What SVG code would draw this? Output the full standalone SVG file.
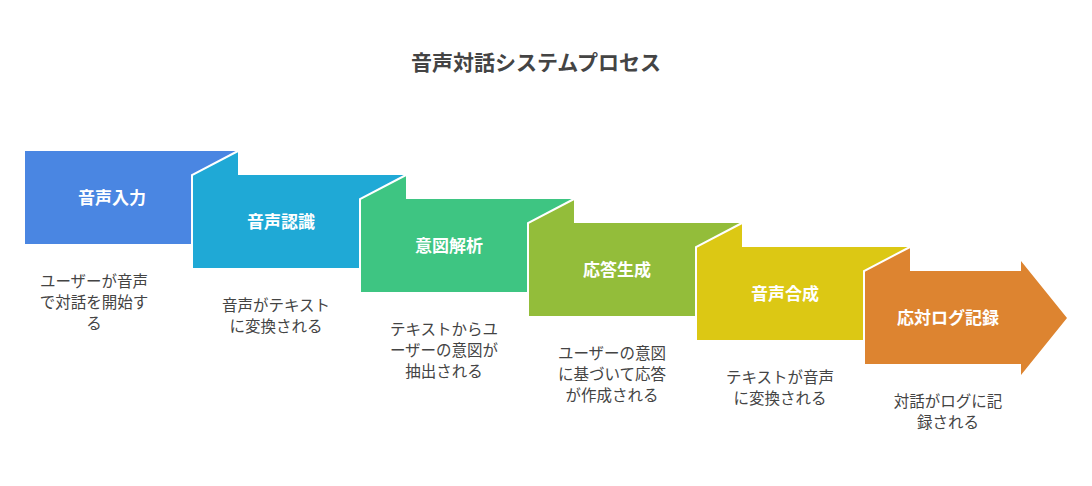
<svg xmlns="http://www.w3.org/2000/svg" width="1092" height="486" viewBox="0 0 1092 486">
<style>
.t{font-family:"Noto Sans CJK JP",sans-serif;font-size:17px;font-weight:bold;fill:#fff;text-anchor:middle}
.d{font-family:"Noto Sans CJK JP",sans-serif;font-size:15.5px;fill:#444;text-anchor:middle}
.f{stroke:#fff;stroke-width:2;fill:none}
</style>
<rect width="1092" height="486" fill="#fff"/>
<text x="536" y="70" text-anchor="middle" font-family="Noto Sans CJK JP,sans-serif" font-size="21" font-weight="bold" fill="#444">音声対話システムプロセス</text>
<g id="n1"><rect x="25" y="151" width="213" height="93" fill="#4a86e2"/><text class="t" x="112" y="204">音声入力</text>
<text class="d" x="94" y="287">ユーザーが音声</text><text class="d" x="94" y="308">で対話を開始す</text><text class="d" x="94" y="329">る</text></g>
<g id="n2"><polygon points="192,175 238,151 406,151 406,268 192,268" fill="#1fa9d6"/><rect x="238" y="151" width="168" height="24" fill="#fff"/><polyline class="f" points="238,151 192,175 192,268"/><text class="t" x="281" y="228">音声認識</text>
<text class="d" x="276" y="311">音声がテキスト</text><text class="d" x="276" y="332">に変換される</text></g>
<g id="n3"><polygon points="360,199 406,175 574,175 574,292 360,292" fill="#3ec582"/><rect x="406" y="175" width="168" height="24" fill="#fff"/><polyline class="f" points="406,175 360,199 360,292"/><text class="t" x="449" y="252">意図解析</text>
<text class="d" x="444" y="335">テキストからユ</text><text class="d" x="444" y="356">ーザーの意図が</text><text class="d" x="444" y="377">抽出される</text></g>
<g id="n4"><polygon points="528,223 574,199 742,199 742,316 528,316" fill="#93bd3a"/><rect x="574" y="199" width="168" height="24" fill="#fff"/><polyline class="f" points="574,199 528,223 528,316"/><text class="t" x="617" y="276">応答生成</text>
<text class="d" x="612" y="359">ユーザーの意図</text><text class="d" x="612" y="380">に基づいて応答</text><text class="d" x="612" y="401">が作成される</text></g>
<g id="n5"><polygon points="696,247 742,223 910,223 910,340 696,340" fill="#dcc814"/><rect x="742" y="223" width="168" height="24" fill="#fff"/><polyline class="f" points="742,223 696,247 696,340"/><text class="t" x="785" y="300">音声合成</text>
<text class="d" x="780" y="383">テキストが音声</text><text class="d" x="780" y="404">に変換される</text></g>
<g id="n6"><polygon points="864,271 910,247 910,271 1021,271 1021,261 1067,318 1021,375 1021,364 864,364" fill="#dd8430"/><polyline class="f" points="910,247 864,271 864,364"/><text class="t" x="948" y="324">応対ログ記録</text>
<text class="d" x="948" y="407">対話がログに記</text><text class="d" x="948" y="428">録される</text></g>
<g id="connectors"/>
</svg>
